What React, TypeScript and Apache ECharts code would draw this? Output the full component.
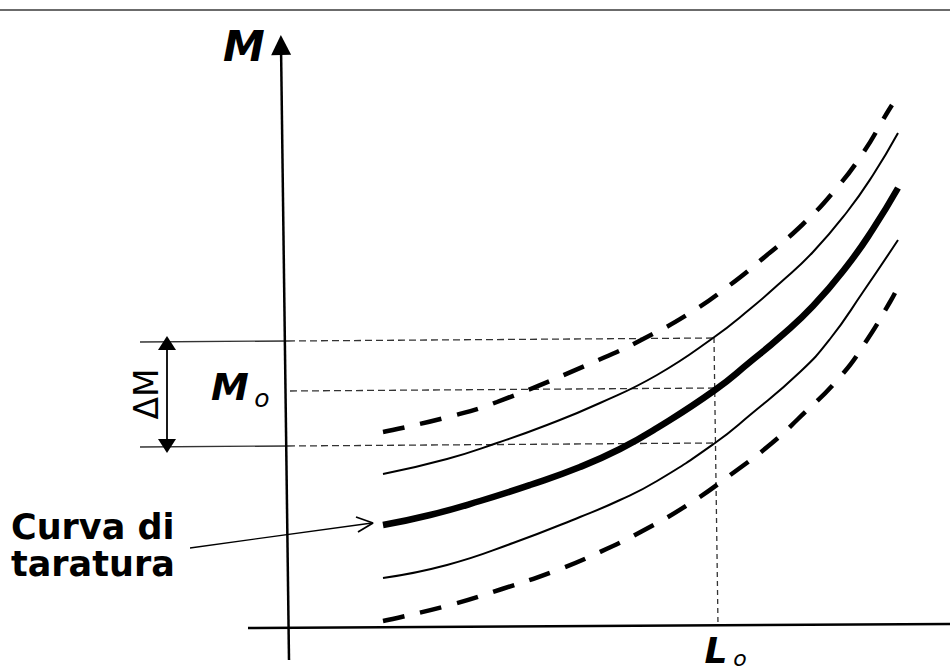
import React, { useEffect, useRef } from "react";
import * as echarts from "echarts";

// Curves (x, M), in the chart's own units (y grows downward)
const calibration: number[][] = [[383, 525], [430, 515], [480, 501], [530, 485], [580, 467], [620, 449], [657, 428], [715, 390], [750, 362], [780, 337], [813, 306], [847, 266], [873, 229], [898, 188]];
const upperBand: number[][] = [[383, 474], [447, 459], [497, 443], [547, 425], [600, 403], [657, 375], [713, 338], [750, 309], [780, 283], [813, 252], [847, 212], [873, 175], [898, 133]];
const lowerBand: number[][] = [[383, 578], [447, 565], [513, 543], [580, 517], [620, 500], [657, 481], [715, 443], [750, 415], [800, 372], [830, 339], [863, 292], [898, 240]];
const upperLimit: number[][] = [[383, 432], [448, 417], [497, 402], [603, 358], [645, 338], [690, 313], [730, 285], [767, 255], [802, 225], [835, 190], [863, 153], [887, 113], [892, 105]];
const lowerLimit: number[][] = [[383, 621], [450, 605], [502, 589], [552, 572], [600, 552], [648, 528], [692, 502], [733, 473], [772, 443], [798, 419], [840, 377], [867, 340], [890, 302], [895, 293]];

// Reference lines
const frameTop: number[][] = [[0, 10], [950, 10]];
const yAxisLine: number[][] = [[289, 660], [281, 45]];
const xAxisLine: number[][] = [[248, 628], [950, 624]];
const l0Line: number[][] = [[714, 338], [718, 625]];
const mUpperSolid: number[][] = [[140, 342], [288, 341]];
const mUpperDash: number[][] = [[288, 341], [714, 338]];
const m0Dash: number[][] = [[290, 391], [714, 388]];
const mLowerSolid: number[][] = [[140, 447], [288, 446]];
const mLowerDash: number[][] = [[288, 446], [714, 443]];
const deltaArrow: number[][] = [[167, 343], [167, 446]];
const pointerLine: number[][] = [[190, 548], [372, 523]];
const pointerHead: number[][] = [[356, 517], [373, 523], [358, 532]];

// Text labels: [x, y, text]
const labelM: [number, number, string] = [244, 46, "M"];
const labelM0: [number, number, string] = [230, 387, "M"];
const labelM0sub: [number, number, string] = [262, 398, "o"];
const labelL0: [number, number, string] = [716, 650, "L"];
const labelL0sub: [number, number, string] = [740, 658, "o"];
const labelDelta: [number, number, string] = [146, 394, "ΔM"];
const labelCurva1: [number, number, string] = [11, 527, "Curva di"];
const labelCurva2: [number, number, string] = [11, 564, "taratura"];

const INK = "#000000";
const FONT = "DejaVu Sans";
const SMOOTH = 0.5;

function seg(data: number[][], color: string, width: number, type: any = "solid"): any {
  return {
    type: "line",
    data,
    showSymbol: false,
    symbol: "none",
    silent: true,
    lineStyle: { color, width, type, cap: "butt" },
    z: 2,
  };
}

function arrowSeg(data: number[][], symbols: string[], size: number[], color: string, width: number): any {
  return {
    type: "line",
    data: [],
    silent: true,
    markLine: {
      silent: true,
      symbol: symbols,
      symbolSize: size,
      label: { show: false },
      lineStyle: { color, width, type: "solid", opacity: 1 },
      itemStyle: { color },
      emphasis: { disabled: true },
      data: [[{ coord: data[0] }, { coord: data[1] }]],
    },
  };
}

function textPoint(p: [number, number, string], style: any): any {
  return {
    type: "scatter",
    data: [[p[0], p[1]]],
    symbolSize: 0,
    silent: true,
    itemStyle: { opacity: 1 },
    label: {
      show: true,
      position: "inside",
      formatter: p[2],
      color: INK,
      opacity: 1,
      fontFamily: FONT,
      ...style,
    },
    z: 5,
  };
}

export default function App() {
  const ref = useRef<HTMLDivElement>(null);
  useEffect(() => {
    if (!ref.current) return;
    const chart = echarts.init(ref.current, undefined, { renderer: "svg" });
    chart.setOption({
      animation: false,
      backgroundColor: "#ffffff",
      grid: { left: 0, right: 0, top: 0, bottom: 0 },
      xAxis: { type: "value", min: 0, max: 950, show: false },
      yAxis: { type: "value", min: 0, max: 672, inverse: true, show: false },
      series: [
        seg(frameTop, "#3a3a3a", 1.5),
        seg(xAxisLine, INK, 2.5),
        arrowSeg(yAxisLine, ["none", "triangle"], [20, 20], INK, 2.5),
        seg(l0Line, "#333333", 1.3, [5, 4]),
        seg(mUpperSolid, "#333333", 1.3),
        seg(mUpperDash, "#333333", 1.3, [7, 4]),
        seg(m0Dash, "#333333", 1.3, [7, 4]),
        seg(mLowerSolid, "#333333", 1.3),
        seg(mLowerDash, "#333333", 1.3, [7, 4]),
        arrowSeg(deltaArrow, ["triangle", "triangle"], [18, 14], INK, 1.8),
        seg(pointerLine, INK, 1.3),
        seg(pointerHead, INK, 1.8),
        { ...seg(upperLimit, INK, 4.5, [22, 16]), smooth: SMOOTH },
        { ...seg(upperBand, INK, 2, "solid"), smooth: SMOOTH },
        { ...seg(calibration, INK, 6.5, "solid"), smooth: SMOOTH },
        { ...seg(lowerBand, INK, 2, "solid"), smooth: SMOOTH },
        { ...seg(lowerLimit, INK, 4.5, [22, 16]), smooth: SMOOTH },
        textPoint(labelM, { fontSize: 42, fontWeight: "bold", fontStyle: "italic", align: "center", verticalAlign: "middle" }),
        textPoint(labelM0, { fontSize: 38, fontWeight: "bold", fontStyle: "italic", align: "center", verticalAlign: "middle" }),
        textPoint(labelM0sub, { fontSize: 25, fontStyle: "italic", align: "center", verticalAlign: "middle" }),
        textPoint(labelL0, { fontSize: 36, fontWeight: "bold", fontStyle: "italic", align: "center", verticalAlign: "middle" }),
        textPoint(labelL0sub, { fontSize: 22, fontStyle: "italic", align: "center", verticalAlign: "middle" }),
        textPoint(labelDelta, { fontSize: 33, rotate: 90, align: "center", verticalAlign: "middle" }),
        textPoint(labelCurva1, { fontSize: 35, lineHeight: 35, fontWeight: "bold", align: "left", verticalAlign: "middle" }),
        textPoint(labelCurva2, { fontSize: 35, lineHeight: 35, fontWeight: "bold", align: "left", verticalAlign: "middle" }),
      ],
    });
    return () => chart.dispose();
  }, []);
  return (
    <div
      ref={ref}
      style={{ position: "absolute", left: 0, top: 0, width: 950, height: 672, background: "#fff" }}
    />
  );
}
